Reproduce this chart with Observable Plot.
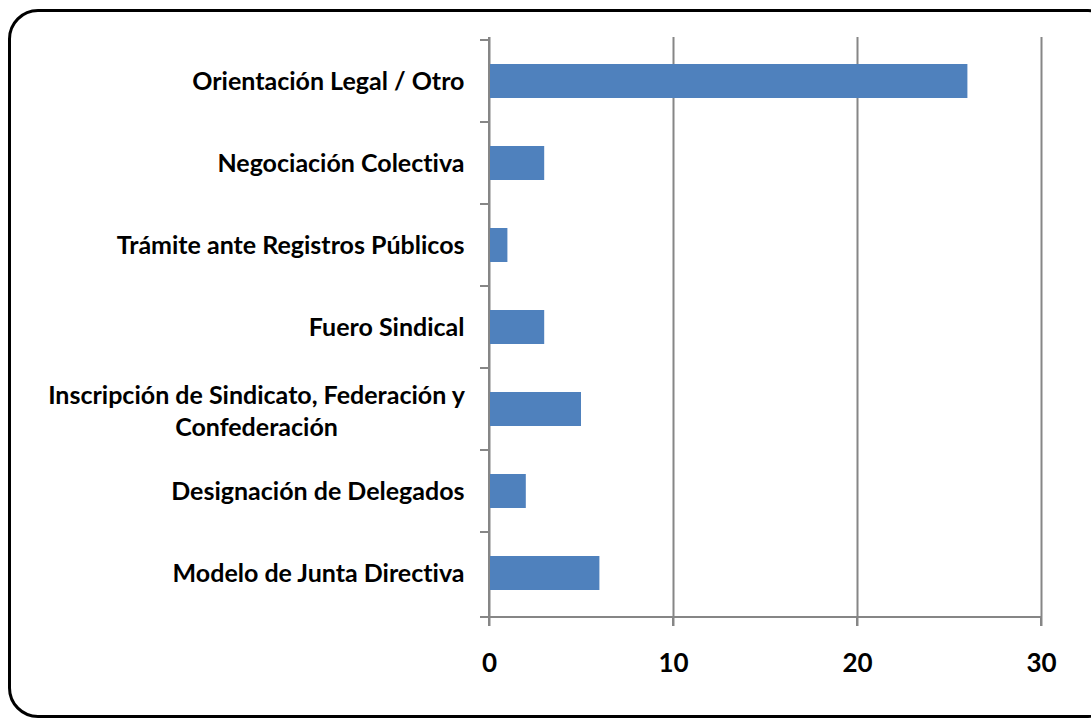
<!DOCTYPE html>
<html>
<head>
<meta charset="utf-8">
<script src="https://cdn.jsdelivr.net/npm/d3@7"></script>
<script src="https://cdn.jsdelivr.net/npm/@observablehq/plot@0.6"></script>
<style>
  html, body { margin: 0; padding: 0; background: #fff; overflow: hidden; }
  #wrap { position: relative; width: 1091px; height: 720px; }
  #border { position: absolute; left: 8px; top: 9px; width: 1110px; height: 709px;
            border: 3px solid #000; border-radius: 30px; box-sizing: border-box; }
  #chart { position: absolute; left: 0; top: 0; }
  svg { font-family: Lato, sans-serif; font-weight: bold; font-variant-ligatures: none; }
</style>
</head>
<body>
<div id="wrap"><div id="border"></div><div id="chart"></div></div>
<script>
const categories = [
  "Orientación Legal / Otro",
  "Negociación Colectiva",
  "Trámite ante Registros Públicos",
  "Fuero Sindical",
  "Inscripción de Sindicato, Federación y\nConfederación",
  "Designación de Delegados",
  "Modelo de Junta Directiva"
];
const values = [26, 3, 1, 3, 5, 2, 6];
const xTicks = [0, 10, 20, 30];

const data = categories.map((c, i) => ({category: c, value: values[i]}));
const single = data.filter(d => !d.category.includes("\n"));
const wrapped = data.filter(d => d.category.includes("\n"));

const grid = "#868686";
const chart = Plot.plot({
  width: 1091,
  height: 720,
  marginLeft: 489,
  marginRight: 50,
  marginTop: 37,
  marginBottom: 103,
  style: {background: "transparent", fontFamily: "Lato, sans-serif"},
  x: {domain: [0, 30], ticks: xTicks, label: null},
  y: {domain: categories, paddingInner: 0.59, paddingOuter: 0.295, axis: null},
  marks: [
    Plot.ruleX(xTicks, {stroke: grid, strokeWidth: 2}),
    Plot.axisX({ticks: xTicks, tickSize: 9, tickPadding: 27, stroke: grid, strokeWidth: 2, label: null,
                fontSize: 26, fontWeight: "bold", fill: "#000", color: "#000"}),
    Plot.barX(data, {x: "value", y: "category", fill: "#4F81BD"}),
    Plot.text(single, {y: "category", text: "category", frameAnchor: "left", textAnchor: "end",
                       dx: -25, fontSize: 25, fontWeight: "bold", fill: "#000"}),
    Plot.text(wrapped, {y: "category", text: "category", frameAnchor: "left", textAnchor: "middle",
                        dx: -233, fontSize: 25, fontWeight: "bold", fill: "#000", lineHeight: 1.3})
  ]
});

// axis lines and category-boundary ticks, drawn from Plot's own scales
const sx = chart.scale("x"), sy = chart.scale("y");
const svg = d3.select(chart);
const x0 = sx.apply(0), x30 = sx.apply(30);
const yTop = sy.range[0], yBot = sy.range[1];
const g = svg.append("g").attr("stroke", grid).attr("stroke-width", 2);
g.append("line").attr("x1", x0 - 9).attr("x2", x30).attr("y1", yBot).attr("y2", yBot);
g.append("line").attr("x1", x0).attr("x2", x0).attr("y1", yTop).attr("y2", yBot);
const bounds = categories.map(c => sy.apply(c) - (sy.step - sy.bandwidth) / 2);
for (const b of bounds) {
  g.append("line").attr("x1", x0 - 9).attr("x2", x0).attr("y1", b).attr("y2", b);
}
for (const t of xTicks) {
  g.append("line").attr("x1", sx.apply(t)).attr("x2", sx.apply(t)).attr("y1", yBot).attr("y2", yBot + 9);
}
document.getElementById("chart").appendChild(chart);
</script>
</body>
</html>
